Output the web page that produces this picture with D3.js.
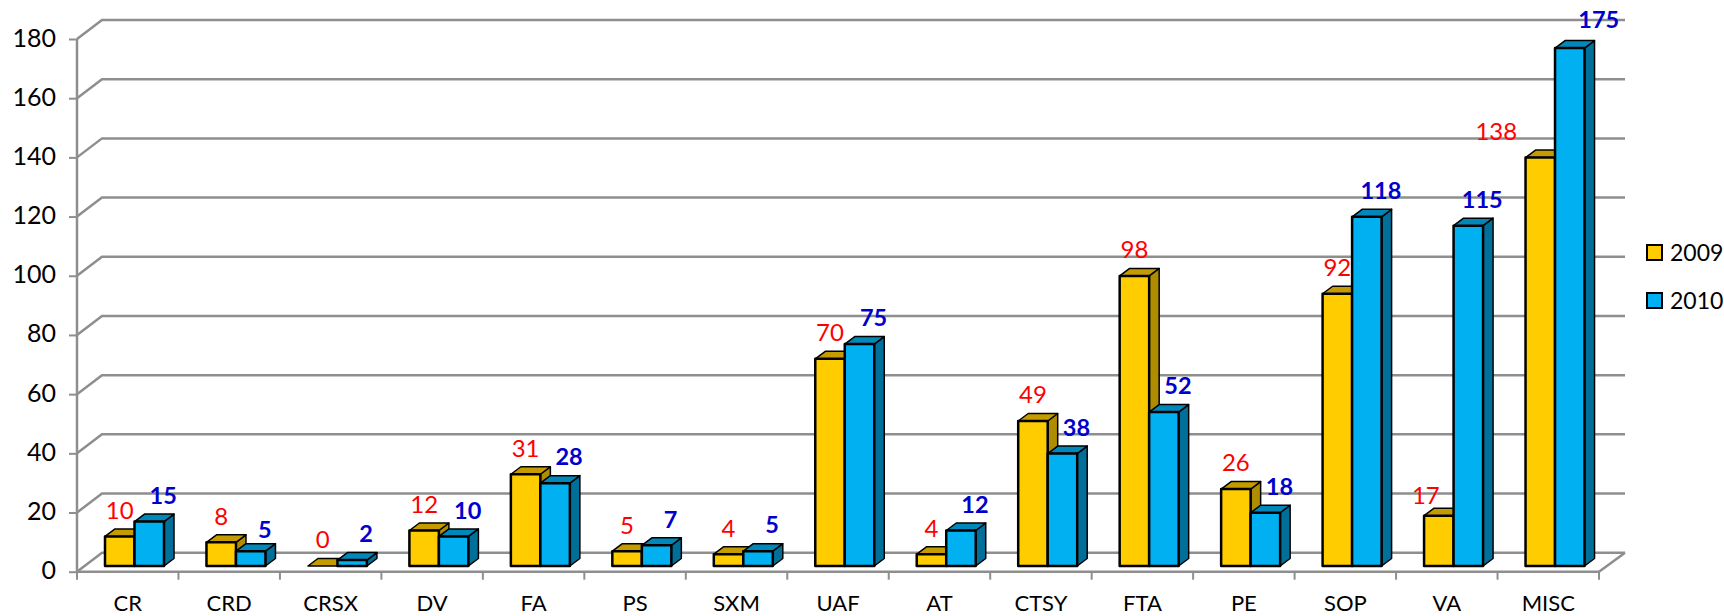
<!DOCTYPE html>
<html>
<head>
<meta charset="utf-8">
<script src="https://cdn.jsdelivr.net/npm/d3@7"></script>
<style>
  html, body { margin: 0; padding: 0; background: #fff; overflow: hidden; }
  svg { display: block; }
  text { font-family: Lato, "Open Sans", sans-serif; }
</style>
</head>
<body>
<svg id="chart" width="1724" height="616"></svg>
<script>
var categories = ["CR", "CRD", "CRSX", "DV", "FA", "PS", "SXM", "UAF", "AT", "CTSY", "FTA", "PE", "SOP", "VA", "MISC"];
var values2009 = [10, 8, 0, 12, 31, 5, 4, 70, 4, 49, 98, 26, 92, 17, 138];
var values2010 = [15, 5, 2, 10, 28, 7, 5, 75, 12, 38, 52, 18, 118, 115, 175];
var seriesNames = ["2009", "2010"];
var yTicks = [0, 20, 40, 60, 80, 100, 120, 140, 160, 180];

var series = [
  {name: "2009", values: values2009, front: "#ffcc00", top: "#c49c00", side: "#b08c00", label: "#ff0000", weight: 400, size: 24, dx: 0},
  {name: "2010", values: values2010, front: "#00b0f0", top: "#0088ba", side: "#00709a", label: "#0000cc", weight: 700, size: 23.5, dx: 14}
];

// hand moved labels in the original, by "series/category index"
var labelNudge = {
  "2009/13": [-13, 6],
  "2009/14": [-44, 0],
  "2010/1": [0, 5],
  "2010/14": [15, -2]
};

var left = 77, right = 1599, floorY = 571.7, topY = 39;
var wallDx = 25, wallDy = -19;   // back wall offset
var barDx = 10, barDy = -7.5;    // bar depth
var barBaseY = 566;

var svg = d3.select("svg#chart");

var x = d3.scaleBand().domain(categories).range([left, right]);
var xInner = d3.scaleBand().domain(seriesNames).range([28, 87]);
var y = d3.scaleLinear().domain([0, 180]).range([floorY, topY]);
var barH = v => y(0) - y(v);

var gridColor = "#8e8e8e";

// walls
var grid = svg.append("g").attr("fill", "none").attr("stroke", gridColor).attr("stroke-width", 2.5);
grid.selectAll("path").data(yTicks).enter().append("path")
  .attr("d", d => "M" + left + "," + y(d) + "L" + (left + wallDx) + "," + (y(d) + wallDy) + "L" + (right + wallDx + 1) + "," + (y(d) + wallDy));
grid.append("path")
  .attr("d", "M" + right + "," + floorY + "L" + (right + wallDx + 1) + "," + (floorY + wallDy));

// axes
var yAxis = d3.axisLeft(y).tickValues(yTicks).tickSize(8).tickPadding(13);
var gy = svg.append("g").attr("transform", "translate(" + left + ",0)").call(yAxis);
gy.select(".domain").attr("stroke", gridColor).attr("stroke-width", 2.5).attr("d", "M0," + topY + "V" + floorY);
gy.selectAll(".tick line").attr("stroke", gridColor).attr("stroke-width", 2);
gy.selectAll("text").attr("font-size", 25).attr("font-family", "Lato").attr("fill", "#000").attr("dy", "0.28em");

var xAxis = d3.axisBottom(x).tickSize(0).tickPadding(24);
var gx = svg.append("g").attr("transform", "translate(0," + floorY + ")").call(xAxis);
gx.select(".domain").attr("stroke", gridColor).attr("stroke-width", 2.5).attr("d", "M" + left + ",0H" + right);
gx.selectAll("text").attr("font-size", 22).attr("font-family", "Lato").attr("fill", "#000").attr("dy", "0.68em");

svg.append("g").selectAll("line").data(categories.concat("end")).enter().append("line")
  .attr("x1", (d, i) => i < categories.length ? x(d) : right)
  .attr("x2", (d, i) => i < categories.length ? x(d) : right)
  .attr("y1", floorY).attr("y2", floorY + 8)
  .attr("stroke", gridColor).attr("stroke-width", 2);

// bars, one series over the other so the taller blue one hides the side
var bars = svg.append("g").attr("stroke", "#000").attr("stroke-linejoin", "round");

series.forEach(function(s) {
  var g = bars.append("g").selectAll("g").data(categories).enter().append("g")
    .attr("transform", d => "translate(" + (x(d) + xInner(s.name)) + "," + barBaseY + ")");
  var w = xInner.bandwidth();

  g.append("path") // side
    .attr("fill", s.side).attr("stroke-width", 1.5)
    .attr("d", (d, i) => {
      var h = barH(s.values[i]);
      return "M" + w + "," + (-h) + "l" + barDx + "," + barDy + "V" + barDy + "L" + w + ",0Z";
    });
  g.append("path") // top
    .attr("fill", s.top).attr("stroke-width", 1.5)
    .attr("d", (d, i) => {
      var h = barH(s.values[i]);
      return "M0," + (-h) + "l" + barDx + "," + barDy + "h" + w + "l" + (-barDx) + "," + (-barDy) + "Z";
    });
  g.append("rect") // front
    .attr("fill", s.front).attr("stroke-width", 2.5)
    .attr("width", w)
    .attr("y", (d, i) => -barH(s.values[i]))
    .attr("height", (d, i) => barH(s.values[i]));
});

// data labels
series.forEach(function(s) {
  svg.append("g").selectAll("text").data(categories).enter().append("text")
    .attr("x", (d, i) => {
      var n = labelNudge[s.name + "/" + i] || [0, 0];
      return x(d) + xInner(s.name) + xInner.bandwidth() / 2 + s.dx + n[0];
    })
    .attr("y", (d, i) => {
      var n = labelNudge[s.name + "/" + i] || [0, 0];
      return barBaseY - barH(s.values[i]) - 26 + n[1];
    })
    .attr("dy", "0.35em")
    .attr("text-anchor", "middle")
    .attr("font-size", s.size)
    .attr("font-weight", s.weight)
    .attr("fill", s.label)
    .text((d, i) => s.values[i]);
});

// legend
var legend = svg.append("g").selectAll("g").data(series).enter().append("g")
  .attr("transform", (d, i) => "translate(1647," + (245 + i * 48) + ")");
legend.append("rect")
  .attr("width", 15).attr("height", 15)
  .attr("fill", d => d.front).attr("stroke", "#000").attr("stroke-width", 2);
legend.append("text")
  .attr("x", 23).attr("y", 7.5).attr("dy", "0.36em")
  .attr("font-size", 23).attr("fill", "#000")
  .text(d => d.name);
</script>
</body>
</html>
